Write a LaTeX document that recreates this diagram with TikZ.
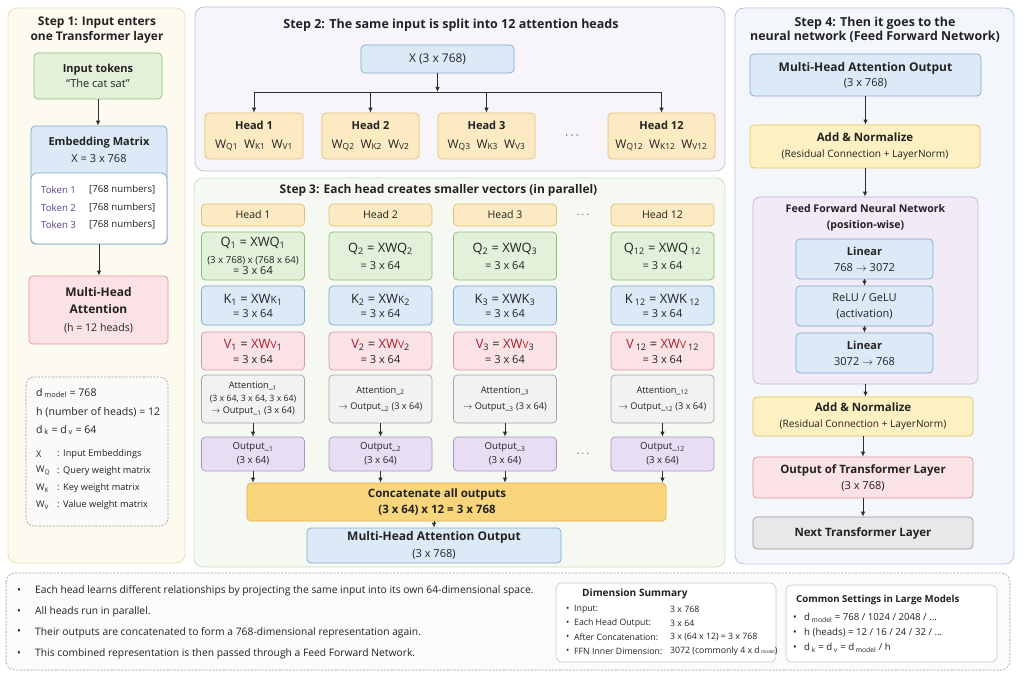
\documentclass[tikz,border=0pt]{standalone}
\usepackage{fontspec}
\setmainfont{Open Sans}
\usetikzlibrary{arrows.meta}
\newcommand\fs[2]{\fontsize{\dimexpr #1pt*92/100\relax}{#2}\selectfont}
\definecolor{txt}{HTML}{222222}
\definecolor{arrc}{HTML}{2E2E2E}
\definecolor{p1fill}{HTML}{FDFAEF}\definecolor{p1draw}{HTML}{EDDFB8}
\definecolor{p2fill}{HTML}{F7F5FA}\definecolor{p2draw}{HTML}{C6BED3}
\definecolor{p3fill}{HTML}{F5F9F1}\definecolor{p3draw}{HTML}{CCE0BF}
\definecolor{p4fill}{HTML}{F3F6FB}\definecolor{p4draw}{HTML}{B5C9E2}
\definecolor{grfill}{HTML}{E3F1DA}\definecolor{grdraw}{HTML}{8DBF78}
\definecolor{blfill}{HTML}{DCEAF7}\definecolor{bldraw}{HTML}{7FA6D0}
\definecolor{pkfill}{HTML}{FBE2E5}\definecolor{pkdraw}{HTML}{DF939C}
\definecolor{ylfill}{HTML}{FCEBC2}\definecolor{yldraw}{HTML}{E3BE6E}
\definecolor{cofill}{HTML}{F9D67C}\definecolor{codraw}{HTML}{DDB04A}
\definecolor{anfill}{HTML}{FDF0C2}\definecolor{andraw}{HTML}{E2C365}
\definecolor{gyfill}{HTML}{F2F2F2}\definecolor{gydraw}{HTML}{A6A6A6}
\definecolor{nxfill}{HTML}{E8E8E8}\definecolor{nxdraw}{HTML}{9A9A9A}
\definecolor{pufill}{HTML}{E7DEF3}\definecolor{pudraw}{HTML}{A792CB}
\definecolor{fffill}{HTML}{F1EAF7}\definecolor{ffdraw}{HTML}{C4B2DD}
\definecolor{vred}{HTML}{A3222E}
\definecolor{tokpur}{HTML}{5A3E8E}
\definecolor{legfill}{HTML}{FAFAF8}\definecolor{legdraw}{HTML}{9A9A9A}
\definecolor{notefill}{HTML}{FBFBFB}
\definecolor{sumdraw}{HTML}{C8C8C8}
\tikzset{
  box/.style={rectangle, rounded corners=4pt, line width=0.7pt, align=center, inner sep=0pt, text=txt},
  bxgreen/.style={box, fill=grfill, draw=grdraw},
  bxblue/.style={box, fill=blfill, draw=bldraw},
  bxpink/.style={box, fill=pkfill, draw=pkdraw},
  bxyellow/.style={box, fill=ylfill, draw=yldraw},
  bxconcat/.style={box, fill=cofill, draw=codraw},
  bxadd/.style={box, fill=anfill, draw=andraw},
  bxgray/.style={box, fill=gyfill, draw=gydraw},
  bxnext/.style={box, fill=nxfill, draw=nxdraw},
  bxpurple/.style={box, fill=pufill, draw=pudraw},
  bxffn/.style={box, fill=fffill, draw=ffdraw, rounded corners=7pt},
  panel/.style={rounded corners=9pt, line width=0.8pt},
  arr/.style={-{Latex[length=5pt,width=4.5pt]}, line width=0.9pt, draw=arrc},
  bus/.style={line width=0.9pt, draw=arrc},
  ttl/.style={font=\fs{13}{15}\bfseries, text=txt, align=center, inner sep=0pt},
  lbl/.style={anchor=west, text=txt, inner sep=0pt},
}
\newcommand\bx[7]{\node[#6,minimum width={(#4)-(#2)},minimum height={(#5)-(#3)}] (#1) at ({((#2)+(#4))/2},{((#3)+(#5))/2}) {#7};}
\newcommand\cb[6]{\bx{#1}{#2-51.5}{#3}{#2+51.5}{#4}{#5}{#6}}
\newcommand\ra{$\rightarrow$}
\begin{document}
\begin{tikzpicture}[x=1pt,y=-1pt]
\fill[white] (0,0) rectangle (1024,682);
\useasboundingbox (0,0) rectangle (1024,682);

% ---------------- Step 1
\draw[panel, fill=p1fill, draw=p1draw] (8,8) rectangle (185,563);
\node[ttl] (t1) at (97,30.5) {Step 1: Input enters\\one Transformer layer};
\bx{inp}{34}{53}{162}{99}{bxgreen, font=\fs{12}{15}}{\textbf{Input tokens}\\“The cat sat”}
\bx{emb}{31}{126}{167}{244}{bxblue}{}
\draw[fill=white, draw=bldraw, line width=0.7pt, rounded corners=6pt] (31,173) rectangle (167,244);
\node[font=\fs{12}{17}, align=center, text=txt, inner sep=0pt] (embt) at (99,149.5) {\textbf{Embedding Matrix}\\X = 3 x 768};
\foreach \i/\y in {1/190,2/207.5,3/225}{
  \node[lbl, text=tokpur, font=\fs{10.5}{12}] (tokl\i) at (41,\y) {Token \i};
  \node[lbl, font=\fs{10.5}{12}] (tokv\i) at (89,\y) {[768 numbers]};
}
\bx{mha}{29}{276}{168}{344}{bxpink, font=\fs{11.5}{17.5}}{{\fs{13}{17}\bfseries Multi-Head}\\{\fs{13}{17}\bfseries Attention}\\(h = 12 heads)}
\draw[arr] (inp.south) -- (inp.south |- emb.north);
\draw[arr] (emb.south) -- (emb.south |- mha.north);

\draw[dash pattern=on 2pt off 1.5pt, rounded corners=8pt, fill=legfill, draw=legdraw, line width=0.6pt] (26,377) rectangle (168,526);
\node[lbl, font=\fs{11.5}{14}] (lg1) at (36,393) {d\,\textsubscript{model} = 768};
\node[lbl, font=\fs{11.5}{14}] (lg2) at (36,412) {h (number of heads) = 12};
\node[lbl, font=\fs{11.5}{14}] (lg3) at (36,430) {d\,\textsubscript{k} = d\,\textsubscript{v} = 64};
\foreach \n/\s/\t/\y in {4/X/Input Embeddings/454, 5/W\textsubscript{Q}/Query weight matrix/471, 6/W\textsubscript{K}/Key weight matrix/488, 7/W\textsubscript{V}/Value weight matrix/505}{
  \node[lbl, font=\fs{10}{12}] (lgs\n) at (36,\y) {\s};
  \node[lbl, font=\fs{10}{12}] (lgc\n) at (57,\y) {:};
  \node[lbl, font=\fs{10}{12}] (lgt\n) at (63,\y) {\t};
}

% ---------------- Step 2
\draw[panel, fill=p2fill, draw=p2draw] (195,7) rectangle (725,171);
\node[ttl, font=\fs{13.6}{15}\bfseries] (t2) at (451,25) {Step 2: The same input is split into 12 attention heads};
\bx{xin}{361}{45}{514}{73}{bxblue, font=\fs{13}{14}}{X (3 x 768)}
\coordinate (bus) at (437.5,92);
\bx{sh1}{205}{113}{303}{159}{bxyellow, font=\fs{13}{19}}{{\fs{12}{19}\bfseries Head 1}\\W\textsubscript{Q1}\enspace W\textsubscript{K1}\enspace W\textsubscript{V1}}
\bx{sh2}{322}{113}{419}{159}{bxyellow, font=\fs{13}{19}}{{\fs{12}{19}\bfseries Head 2}\\W\textsubscript{Q2}\enspace W\textsubscript{K2}\enspace W\textsubscript{V2}}
\bx{sh3}{438}{113}{535}{159}{bxyellow, font=\fs{13}{19}}{{\fs{12}{19}\bfseries Head 3}\\W\textsubscript{Q3}\enspace W\textsubscript{K3}\enspace W\textsubscript{V3}}
\bx{sh12}{608}{113}{715}{159}{bxyellow, font=\fs{13}{19}}{{\fs{12}{19}\bfseries Head 12}\\W\textsubscript{Q12}\enspace W\textsubscript{K12}\enspace W\textsubscript{V12}}
\node[font=\fs{13}{13}, text=txt] (d2) at (572,136) {$\cdots$};
\draw[arr] (xin.south) -- (bus);
\draw[bus] (sh1.north |- bus) -- (sh12.north |- bus);
\foreach \h in {sh1,sh2,sh3,sh12} \draw[arr] (\h.north |- bus) -- (\h.north);

% ---------------- Step 3
\draw[panel, fill=p3fill, draw=p3draw] (194,178) rectangle (725,567);
\node[ttl] (t3) at (438.5,190) {Step 3: Each head creates smaller vectors (in parallel)};
% column 1
\cb{h1}{253}{204}{226}{bxyellow, font=\fs{11.5}{14}}{Head 1}
\cb{q1}{253}{232}{280}{bxgreen, font=\fs{12}{15}}{{\fs{14}{15}Q\textsubscript{1} = XWQ\textsubscript{1}}\\[2pt]{\fs{10.5}{11}(3 x 768) x (768 x 64)}\\[-4pt]{\fs{12}{13}= 3 x 64}}
\cb{k1}{253}{286}{325}{bxblue, font=\fs{12}{14}}{{\fs{14}{15}K\textsubscript{1} = XW{\fs{11}{12}K}\textsubscript{1}}\\= 3 x 64}
\cb{v1}{253}{332}{370}{bxpink, font=\fs{12}{15}}{{\fs{14}{15}\textcolor{vred}{V}\textsubscript{1} = \textcolor{vred}{XW{\fs{11}{12}V}}\textsubscript{1}}\\= 3 x 64}
\cb{a1}{253}{375}{423}{bxgray, font=\fs{10}{12.5}}{Attention\_\textsubscript{1}\\{\fs{9.5}{12}(3 x 64, 3 x 64, 3 x 64)}\\\ra{} Output\_\textsubscript{1} (3 x 64)}
\cb{o1}{253}{437}{471}{bxpurple, font=\fs{10.5}{13.5}}{Output\_\textsubscript{1}\\(3 x 64)}
% column 2
\cb{h2}{380.5}{204}{226}{bxyellow, font=\fs{11.5}{14}}{Head 2}
\cb{q2}{380.5}{232}{280}{bxgreen, font=\fs{12}{15}}{{\fs{14}{15}Q\textsubscript{2} = XWQ\textsubscript{2}}\\[2pt]{= 3 x 64}}
\cb{k2}{380.5}{286}{325}{bxblue, font=\fs{12}{14}}{{\fs{14}{15}K\textsubscript{2} = XW{\fs{11}{12}K}\textsubscript{2}}\\= 3 x 64}
\cb{v2}{380.5}{332}{370}{bxpink, font=\fs{12}{15}}{{\fs{14}{15}\textcolor{vred}{V}\textsubscript{2} = \textcolor{vred}{XW{\fs{11}{12}V}}\textsubscript{2}}\\= 3 x 64}
\cb{a2}{380.5}{375}{423}{bxgray, font=\fs{10}{12.5}}{Attention\_\textsubscript{2}\\[4pt]\ra{} Output\_\textsubscript{2} (3 x 64)}
\cb{o2}{380.5}{437}{471}{bxpurple, font=\fs{10.5}{13.5}}{Output\_\textsubscript{2}\\(3 x 64)}
% column 3
\cb{h3}{505}{204}{226}{bxyellow, font=\fs{11.5}{14}}{Head 3}
\cb{q3}{505}{232}{280}{bxgreen, font=\fs{12}{15}}{{\fs{14}{15}Q\textsubscript{2} = XWQ\textsubscript{3}}\\[2pt]{= 3 x 64}}
\cb{k3}{505}{286}{325}{bxblue, font=\fs{12}{14}}{{\fs{14}{15}K\textsubscript{3} = XWK\textsubscript{3}}\\= 3 x 64}
\cb{v3}{505}{332}{370}{bxpink, font=\fs{12}{15}}{{\fs{14}{15}\textcolor{vred}{V}\textsubscript{3} = \textcolor{vred}{XW{\fs{11}{12}V}}\textsubscript{3}}\\= 3 x 64}
\cb{a3}{505}{375}{423}{bxgray, font=\fs{10}{12.5}}{Attention\_\textsubscript{3}\\[4pt]\ra{} Output\_\textsubscript{3} (3 x 64)}
\cb{o3}{505}{437}{471}{bxpurple, font=\fs{10.5}{13.5}}{Output\_\textsubscript{3}\\(3 x 64)}
% column 12
\cb{h12}{662.5}{204}{226}{bxyellow, font=\fs{11.5}{14}}{Head 12}
\cb{q12}{662.5}{232}{280}{bxgreen, font=\fs{12}{15}}{{\fs{14}{15}Q\textsubscript{12} = XWQ\,\textsubscript{12}}\\[2pt]{= 3 x 64}}
\cb{k12}{662.5}{286}{325}{bxblue, font=\fs{12}{14}}{{\fs{14}{15}K\,\textsubscript{12} = XWK\,\textsubscript{12}}\\= 3 x 64}
\cb{v12}{662.5}{332}{370}{bxpink, font=\fs{12}{15}}{{\fs{14}{15}\textcolor{vred}{V}\,\textsubscript{12} = \textcolor{vred}{XW{\fs{11}{12}V}}\,\textsubscript{12}}\\= 3 x 64}
\cb{a12}{662.5}{375}{423}{bxgray, font=\fs{10}{12.5}}{Attention\_\textsubscript{12}\\[4pt]\ra{} Output\_\textsubscript{12} (3 x 64)}
\cb{o12}{662.5}{437}{471}{bxpurple, font=\fs{10.5}{13.5}}{Output\_\textsubscript{12}\\(3 x 64)}
\node[font=\fs{12}{12}, text=txt] (d3a) at (583,215) {$\cdots$};
\node[font=\fs{12}{12}, text=txt] (d3b) at (583,454) {$\cdots$};
\bx{concat}{247}{483}{666}{521}{bxconcat}{}
\node[font=\fs{12.5}{16.5}\bfseries, text=txt, align=center, inner sep=0pt] (concatt) at (437,502) {Concatenate all outputs\\(3 x 64) x 12 = 3 x 768};
\bx{mhao}{307}{528}{561}{563}{bxblue, font=\fs{12}{17}}{{\fs{13}{16}\bfseries Multi-Head Attention Output}\\(3 x 768)}
\foreach \c in {1,2,3,12}{
  \draw[arr] (a\c.south) -- (o\c.north);
  \draw[arr] (o\c.south) -- (o\c.south |- concat.north);
}
\draw[arr] (mhao.north |- concat.south) -- (mhao.north);

% ---------------- Step 4
\draw[panel, fill=p4fill, draw=p4draw] (735,8) rectangle (1014,564);
\node[ttl, font=\fs{13.5}{14.5}\bfseries] (t4) at (875,30) {Step 4: Then it goes to the\\neural network (Feed Forward Network)};
\bx{s4mha}{750}{54}{981}{96}{bxblue, font=\fs{12}{15}}{{\fs{13}{15}\bfseries Multi-Head Attention Output}\\(3 x 768)}
\bx{s4an1}{750}{125}{980}{168}{bxadd, font=\fs{11}{16}}{{\fs{12.5}{15}\bfseries Add \& Normalize}\\(Residual Connection + LayerNorm)}
\bx{ffn}{753}{197}{978}{384}{bxffn}{}
\node[font=\fs{11.5}{16}\bfseries, text=txt, align=center, inner sep=0pt] (ffnt) at (865.5,218) {Feed Forward Neural Network\\(position-wise)};
\bx{lin1}{796}{239}{933}{279}{bxblue, font=\fs{12}{16}}{\textbf{Linear}\\768 \ra{} 3072}
\bx{relu}{796}{286}{933}{326}{bxblue, font=\fs{12}{16}}{ReLU / GeLU\\(activation)}
\bx{lin2}{796}{333}{933}{373}{bxblue, font=\fs{12}{16}}{\textbf{Linear}\\3072 \ra{} 768}
\bx{s4an2}{753}{397}{973}{436}{bxadd, font=\fs{11}{16}}{{\fs{12.5}{15}\bfseries Add \& Normalize}\\(Residual Connection + LayerNorm)}
\bx{s4out}{753}{457}{973}{498}{bxpink, font=\fs{12}{16}}{{\fs{12.5}{15}\bfseries Output of Transformer Layer}\\(3 x 768)}
\bx{next}{753}{517}{973}{549}{bxnext, font=\fs{12.5}{15}\bfseries}{Next Transformer Layer}
\draw[arr] (s4mha.south) -- (s4mha.south |- s4an1.north);
\draw[arr] (s4an1.south) -- (s4an1.south |- ffn.north);
\draw[arr] (lin1.south) -- (lin1.south |- relu.north);
\draw[arr] (relu.south) -- (relu.south |- lin2.north);
\draw[arr] (ffn.south) -- (ffn.south |- s4an2.north);
\draw[arr] (s4an2.south) -- (s4an2.south |- s4out.north);
\draw[arr] (s4out.south) -- (s4out.south |- next.north);

% ---------------- Bottom notes
\draw[dash pattern=on 2pt off 1.5pt, rounded corners=9pt, fill=notefill, draw=legdraw, line width=0.6pt] (6,573) rectangle (1010,670);
\foreach \n/\y/\t in {1/591/{Each head learns different relationships by projecting the same input into its own 64-dimensional space.},
  2/612/{All heads run in parallel.},
  3/632.5/{Their outputs are concatenated to form a 768-dimensional representation again.},
  4/654/{This combined representation is then passed through a Feed Forward Network.}}{
  \node[lbl, font=\fs{11}{13}] (nb\n) at (17,\y) {\textbullet};
  \node[lbl, font=\fs{11.2}{13}] (nt\n) at (35,\y) {\t};
}
\draw[rounded corners=6pt, fill=white, draw=sumdraw, line width=0.6pt] (556,583) rectangle (776,662);
\node[lbl, font=\fs{11}{13}\bfseries] (dst) at (582,594) {Dimension Summary};
\foreach \n/\y/\a/\b in {1/609/{Input:}/{3 x 768}, 2/623/{Each Head Output:}/{3 x 64}, 3/637/{After Concatenation:}/{3 x (64 x 12) = 3 x 768}, 4/651/{FFN Inner Dimension:}/{3072 (commonly 4 x d\,{\fs{5}{6}model})}}{
  \node[lbl, font=\fs{9.5}{11}] (dsb\n) at (566,\y) {\textbullet};
  \node[lbl, font=\fs{9.5}{11}] (dsl\n) at (574,\y) {\a};
  \node[lbl, font=\fs{9.5}{11}] (dsv\n) at (670,\y) {\b};
}
\draw[rounded corners=6pt, fill=white, draw=sumdraw, line width=0.6pt] (786,585) rectangle (997,662);
\node[lbl, font=\fs{10.5}{13}\bfseries] (cst) at (796,600) {Common Settings in Large Models};
\foreach \n/\y/\t in {1/618/{d\,\textsubscript{model} = 768 / 1024 / 2048 / …}, 2/633/{h (heads) = 12 / 16 / 24 / 32 / …}, 3/648/{d\,\textsubscript{k} = d\,\textsubscript{v} = d\,\textsubscript{model} / h}}{
  \node[lbl, font=\fs{10.5}{12}] (csb\n) at (793,\y) {\textbullet};
  \node[lbl, font=\fs{10.5}{12}] (cst\n) at (804,\y) {\t};
}
\end{tikzpicture}
\end{document}
